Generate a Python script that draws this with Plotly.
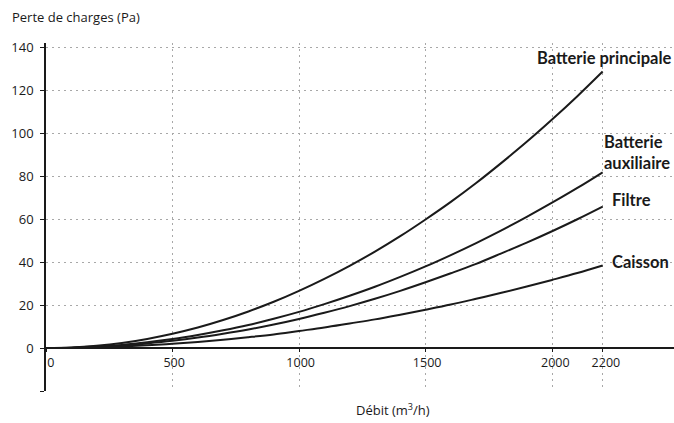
import plotly.graph_objects as go

debit = [0, 100, 200, 300, 400, 500, 600, 700, 800, 900, 1000, 1100, 1200,
         1300, 1400, 1500, 1600, 1700, 1800, 1900, 2000, 2100, 2200]
batterie_principale = [0, 0.3, 1.1, 2.4, 4.3, 6.7, 9.6, 13.1, 17.1, 21.6, 26.7, 32.3, 38.4,
                       45.0, 52.2, 60.0, 68.2, 77.0, 86.4, 96.2, 106.6, 117.5, 129.0]
batterie_auxiliaire = [0, 0.2, 0.7, 1.5, 2.7, 4.2, 6.1, 8.3, 10.8, 13.7, 16.9, 20.5, 24.4,
                       28.6, 33.2, 38.1, 43.4, 49.0, 54.9, 61.2, 67.8, 74.7, 82.0]
filtre = [0, 0.1, 0.5, 1.2, 2.2, 3.4, 4.9, 6.7, 8.7, 11.0, 13.6, 16.5, 19.6,
          23.0, 26.7, 30.7, 34.9, 39.3, 44.2, 49.2, 54.5, 60.1, 66.0]
caisson = [0, 0.1, 0.3, 0.7, 1.3, 2.0, 2.9, 3.9, 5.1, 6.4, 8.0, 9.6, 11.5,
           13.4, 15.6, 17.9, 20.3, 23.0, 25.8, 28.7, 31.8, 35.0, 38.5]

x_ticks = [0, 500, 1000, 1500, 2000, 2200]
x_ticklabels = ["\u00a0\u00a0\u00a00", "\u00a0500", "\u00a01000", "\u00a01500", "\u00a0\u00a02000", "\u00a0\u00a02200"]
y_ticks = [-20, 0, 20, 40, 60, 80, 100, 120, 140]
y_ticklabels = [" ", "0", "20", "40", "60", "80", "100", "120", "140"]

FONT = "Open Sans"
LFONT = "Lato"
INK = "#1a1a1a"
GRID = "#a8a8a8"

fig = go.Figure()
for ys in [batterie_principale, batterie_auxiliaire, filtre, caisson]:
    fig.add_trace(go.Scatter(x=debit, y=ys, mode="lines",
                             line=dict(color=INK, width=2, shape="spline"),
                             showlegend=False, hoverinfo="skip"))

lbl = dict(font=dict(family=LFONT, size=16.5, color=INK, weight="bold"), showarrow=False)
fig.add_annotation(text="Batterie principale", xref="paper", x=1.0, xanchor="right",
                   yref="y", y=135.3, **lbl)
fig.add_annotation(text="Batterie<br>auxiliaire", xref="x", x=2198, xanchor="left",
                   yref="y", y=91.4, align="left", **lbl)
fig.add_annotation(text="Filtre", xref="x", x=2228, xanchor="left", yref="y", y=69, **lbl)
fig.add_annotation(text="Caisson", xref="x", x=2228, xanchor="left", yref="y", y=40.3, **lbl)

fig.add_annotation(text="Perte de charges (Pa)", xref="paper", x=-0.058, xanchor="left",
                   yref="paper", y=1.0, yshift=26, yanchor="middle", showarrow=False,
                   font=dict(family=FONT, size=13, color=INK))
fig.add_annotation(text="Débit (m<sup>3</sup>/h)", xref="x", x=1370, xanchor="center",
                   yref="paper", y=0, yshift=-18, yanchor="middle", showarrow=False,
                   font=dict(family=FONT, size=13, color=INK))

y_lo, y_hi = -20, 142.3
fig.update_layout(
    width=674, height=423,
    margin=dict(l=46, r=0, t=43, b=32),
    paper_bgcolor="white", plot_bgcolor="white",
    font=dict(family=FONT, size=13, color=INK),
    xaxis=dict(range=[0, 2482], tickvals=x_ticks, ticktext=x_ticklabels,
               showgrid=True, gridcolor=GRID, griddash="2px,4px", gridwidth=1,
               showline=True, linecolor=INK, linewidth=1.5,
               anchor="free", position=(0 - y_lo) / (y_hi - y_lo),
               ticks="outside", ticklen=3, tickcolor=INK, zeroline=False,
               tickfont=dict(family=FONT, size=12.5, color=INK)),
    yaxis=dict(range=[y_lo, y_hi], tickvals=y_ticks, ticktext=y_ticklabels,
               showgrid=True, gridcolor=GRID, griddash="2px,4px", gridwidth=1,
               showline=True, linecolor=INK, linewidth=1.5,
               ticks="outside", ticklen=4, tickcolor=INK, zeroline=False,
               ticklabelstandoff=4,
               tickfont=dict(family=FONT, size=13, color=INK)),
)

fig.write_html("out.html", config={"displayModeBar": False},
               post_script="document.body.style.margin='0';document.body.style.padding='0';"
                           "document.documentElement.style.overflow='hidden';")
